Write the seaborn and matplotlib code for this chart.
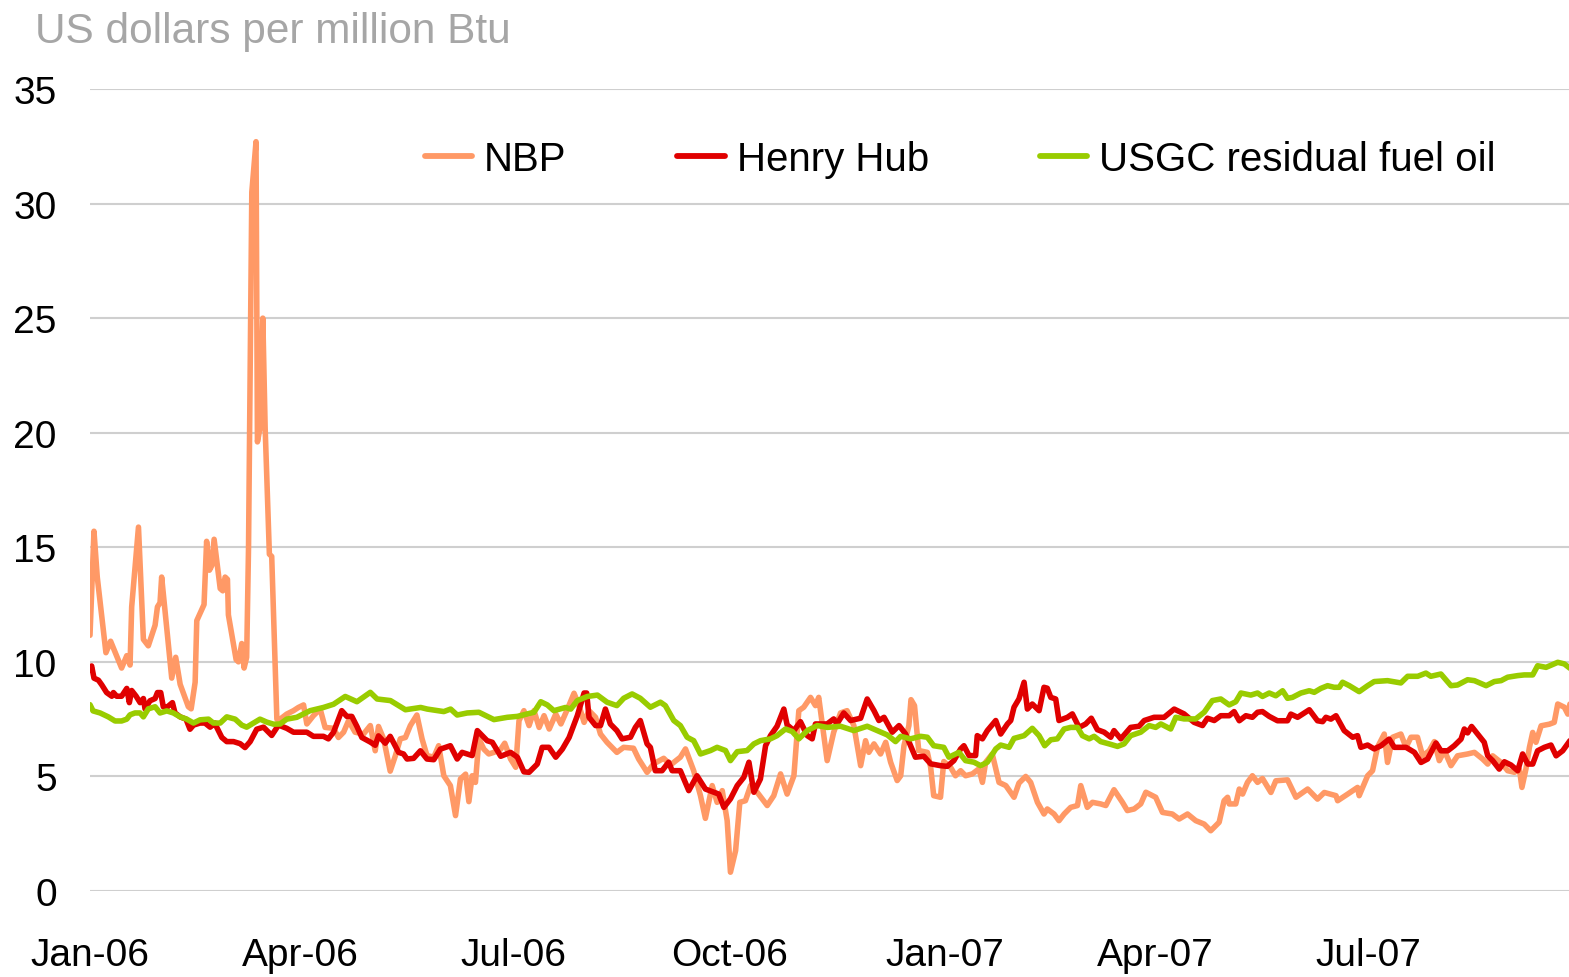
import numpy as np
import pandas as pd
import matplotlib
matplotlib.use("Agg")
import matplotlib.pyplot as plt
import matplotlib.dates as mdates
import seaborn as sns

# ---------------- data (day offsets from 2006-01-01, US$/MMBtu) ----------------
start_date = "2006-01-01"

nbp_day = [0, 1.7, 3.1, 6.8, 8.8, 13.5, 15.7, 17.1, 17.8, 20.7, 22.8, 24.9, 27.8, 28.8, 29.9,
           30.6, 32.8, 34.9, 36.6, 38.5, 42, 43.2, 44.9, 45.6, 48.7, 49.8, 51, 52, 53, 55.6,
           56.7, 57.7, 58.7, 59.1, 62.4, 63.4, 64.8, 65.8, 66.9, 67.7, 69.1, 70.9, 71.5, 72.6, 73.8,
           74.8, 76.6, 77.6, 79.8,
           81.2, 84, 86.9, 89, 91.2, 92.6, 95.4, 98.3, 100.4, 104, 106.1, 108.3, 110.4, 113.2, 116.8,
           119.7, 121.8, 123.2, 125.4, 128.2, 130.4, 132.5, 134.7, 136.8, 139.6, 141.8, 143.9, 146.8,
           148.9, 151.1, 153.9, 156.1, 158.2, 160.4, 161.8, 163.2, 164.6, 166.1, 168.2, 170.3, 172.5,
           175.4, 177.1, 179.6, 181.8, 183.2, 185.3, 187.5, 189.6, 191.8, 193.9, 196.1, 198.9, 201.1,
           203.9, 206.7, 208.8, 211, 213.1, 215.9,
           218, 220.8, 225, 227.9, 232.1, 234.3, 237.9, 240.7, 245, 247.9, 252.1, 254.3, 257.8, 260.7,
           262.8, 265.7, 267.8, 270, 272.1, 273.5, 275.7, 277.5, 279.9, 282.1, 284.9, 289.2, 292,
           294.9, 297.7, 300.6, 302.7, 304.8, 307.7, 309.8, 311.2, 314.8, 317.6, 320.5, 323.3, 326.2,
           329.1, 331.2, 332.6, 334.8, 337.6, 339.8, 341.9, 344.7,
           346.2, 347.6, 349.7, 350.6, 352.1, 353.9, 357.6, 359, 360.3, 363.2, 364.6, 367.5, 369.6,
           371.8, 373.9, 376.8, 379.6, 381.1, 382.5, 385.3, 388.2, 391.1, 394.6, 396.7, 399.6, 401.7,
           404.6, 407.4, 408.8, 411.7, 413.8, 416, 418.8, 421.7, 423.1, 425.9, 428.1, 431.6, 433.8,
           437.3, 440.9, 443, 445.9, 448.7, 450.9, 455.1, 458, 462.2, 465.1, 468.7, 472.2, 475.8,
           478.6, 482.2,
           484.3, 485.8, 486.5, 489.3, 490.8, 492.2, 494.3, 496.4, 498.6, 500.7, 504.3, 506.4, 511.4,
           515, 520, 524.2, 527.1, 532.1, 532.8, 537.1, 541.3, 542, 545.6, 547.7, 549.8, 552.7, 554.1,
           556.3, 559.8, 562, 564.1, 566.9, 569.1, 571.9, 574.1, 576.2, 578.4, 581.2, 584, 588.3,
           591.2, 594.7, 596.9, 599, 602.6, 605.4, 608.3, 610.4, 611.5, 613.2, 614.7, 616.1, 617.5,
           619.7, 623.2, 625.3, 626.8, 629.6, 631.1, 632]
nbp_val = [11.16, 15.7, 13.7, 10.4, 10.9, 9.73, 10.27, 9.86, 12.4, 15.88, 10.98, 10.7, 11.6, 12.4, 12.58,
           13.7, 11.43, 9.29, 10.2, 9.02, 8.04, 7.95, 9.11, 11.8, 12.5, 15.26, 14.0, 14.2, 15.35, 13.2,
           13.1, 13.7, 13.6, 12.05, 10.1, 10.0, 10.8, 9.73, 10.2, 15.0, 30.5, 32.7, 19.6, 20.2, 25.0,
           20.2, 14.7, 14.6, 7.5,
           7.5, 7.72, 7.87, 8.01, 8.12, 7.29, 7.65, 7.94, 7.14, 7.1, 6.7, 6.93, 7.43, 6.93, 6.85,
           7.22, 6.12, 7.18, 6.64, 5.23, 5.9, 6.64, 6.7, 7.22, 7.68, 6.64, 5.91, 5.84,
           6.34, 5.03, 4.6, 3.29, 4.89, 5.1, 3.9, 5.03, 4.74, 6.64, 6.19, 5.98, 6.05,
           6.19, 6.45, 5.76, 5.4, 7.43, 7.87, 7.22, 7.87, 7.14, 7.65, 7.07, 7.72, 7.29,
           7.94, 8.63, 8.1, 7.36, 7.87, 7.58,
           6.85, 6.49, 6.05, 6.27, 6.23, 5.76, 5.18, 5.55, 5.79, 5.5, 5.84, 6.2, 5.25, 4.16,
           3.17, 4.6, 3.87, 4.38, 3.07, 0.82, 1.76, 3.87, 3.94, 4.6, 4.31, 3.73, 4.16,
           5.11, 4.23, 5.03, 7.87, 8.02, 8.45, 8.09, 8.45, 5.69, 6.93, 7.77, 7.87, 7.22,
           5.47, 6.56, 6.05, 6.42, 5.98, 6.49, 5.62, 4.82,
           5.03, 6.34, 7.22, 8.35, 8.09, 6.13, 6.05, 5.4, 4.16, 4.09, 5.65, 5.4, 5.03,
           5.25, 5.03, 5.11, 5.33, 4.74, 5.62, 5.98, 4.74, 4.6, 4.09, 4.71, 5.0, 4.74,
           3.87, 3.36, 3.58, 3.36, 3.07, 3.36, 3.65, 3.73, 4.6, 3.65, 3.87, 3.8, 3.73,
           4.42, 3.87, 3.51, 3.58, 3.8, 4.31, 4.09, 3.43, 3.36, 3.14, 3.36, 3.07, 2.92,
           2.63, 3.0,
           3.94, 4.09, 3.8, 3.8, 4.45, 4.23, 4.74, 5.03, 4.74, 4.91, 4.3, 4.81, 4.85,
           4.09, 4.45, 4.01, 4.3, 4.16, 3.94, 4.23, 4.52, 4.16, 5.03, 5.25, 6.27, 6.85, 5.61,
           6.71, 6.85, 6.27, 6.71, 6.71, 5.9, 6.12, 6.52, 5.69, 6.12, 5.47, 5.9, 5.98,
           6.05, 5.76, 5.54, 5.9, 5.61, 5.25, 5.18, 5.32, 4.52, 5.32, 6.27, 6.92, 6.49,
           7.21, 7.28, 7.36, 8.16, 8.02, 7.72, 8.16]

hh_day = [0, 0.7, 1.7, 3.6, 5, 7.1, 9.3, 10, 11.4, 13.5, 15.7, 16.8, 17.8, 19.7, 21.4,
          22.8, 23.5, 25.6, 27.8, 28.8, 30.2, 31.3, 33.1, 35.2, 36.3, 38.5, 41, 42.7, 44.2, 47,
          49.1, 51.3, 53.4, 54.1, 56.3, 58.4, 61.3, 64.1, 66.2, 68.4, 71.2, 74.1, 77.6, 80.5,
          84, 86.9, 92.6, 95.4, 99.7, 101.8, 104, 107.5, 109.7, 111.8, 114, 116.1, 119.7, 121.8,
          123.2, 126.1, 128.2, 131.8, 133.9, 135.4, 138.2, 141.1, 143.9, 146.8, 149.6, 153.9, 156.8,
          158.9, 163.2, 165.4, 169.6, 171.8, 175.4, 179.6, 182.5, 185.3, 187.5, 191, 193.1, 196,
          198.9, 201.7, 204.6, 208.1, 211, 212.1, 213.1, 215.9,
          218, 220.1, 222.2, 225, 227.2, 230.8, 232.9, 235, 237.9, 239.3, 241.4, 244.3, 247.1, 248.6,
          252.1, 255.7, 259.2, 262.8, 266.4, 268.5, 270.7, 273.5, 276.4, 279.2, 281.4, 283.5, 286.3,
          288.5, 290.6, 293.4, 296.3, 297.7, 300.6, 303.4, 306.3, 308.4, 309.8, 314.8, 317.6, 319,
          321.9, 324.8, 329.1, 331.9, 334.8, 336.9, 339.1, 342.6, 345.5,
          348.3, 350.4, 352.5, 356.1, 359, 363.2, 366.1, 368.9, 371.8, 373.2, 375.4, 378.2, 378.9,
          381.1, 383.2, 386.8, 388.9, 391.8, 393.2, 394.6, 396.7, 398.9, 400.3, 402.4, 405.3, 407.4,
          408.8, 410.3, 412.4, 413.8, 417.4, 419.5, 422.4, 425.2, 427.6, 430.2, 433.1, 435.9, 437.3,
          440.2, 444.4, 448, 450.2, 454.4, 458.7, 463, 467.2, 471.5, 475.1, 477.2, 480.1,
          482.9, 486.5, 488.6, 490.8, 493.6, 496.4, 498.6, 500.7, 503.6, 507.1, 511.4, 512.8, 515.7,
          520.7, 524.2, 526.4, 527.8, 529.9, 532.1, 535.6, 539.2, 541.3, 542.7, 545.6, 548.4, 551.3,
          554.8, 557, 562, 565.6, 568.4, 571.2, 574.8, 576.9, 579.8, 582.6, 585.5, 586.9, 588.3,
          590, 592.6, 595.4, 596.9, 599, 601.8, 604, 606.8, 609.7, 611.8, 614, 616.1, 618.2,
          621.1, 623.9, 626.1, 628.9, 632]
hh_val = [9.65, 9.82, 9.29, 9.2, 9.0, 8.66, 8.5, 8.66, 8.5, 8.5, 8.84, 8.22, 8.75, 8.5, 8.22,
          8.4, 7.95, 8.3, 8.4, 8.66, 8.66, 8.04, 8.04, 8.22, 7.77, 7.6, 7.5, 7.06, 7.24, 7.33,
          7.33, 7.15, 7.33, 7.15, 6.7, 6.52, 6.52, 6.43, 6.26, 6.52, 7.06, 7.15, 6.79, 7.24,
          7.1, 6.93, 6.93, 6.75, 6.75, 6.64, 6.93, 7.87, 7.62, 7.62, 7.18, 6.7, 6.5, 6.36,
          6.77, 6.45, 6.75, 6.05, 5.98, 5.76, 5.79, 6.12, 5.76, 5.73, 6.19, 6.34, 5.76,
          6.05, 5.91, 7.0, 6.56, 6.49, 5.88, 6.05, 5.84, 5.2, 5.18, 5.54, 6.27, 6.27,
          5.84, 6.19, 6.7, 7.65, 8.64, 8.64, 7.58, 7.22,
          7.22, 7.94, 7.29, 7.0, 6.64, 6.71, 7.14, 7.44, 6.42, 6.27, 5.25, 5.25, 5.62, 5.25,
          5.25, 4.38, 5.03, 4.45, 4.31, 4.23, 3.65, 4.02, 4.6, 4.96, 5.62, 4.31, 4.89,
          6.34, 6.78, 7.19, 7.94, 7.25, 7.0, 7.39, 6.78, 6.64, 7.29, 7.29, 7.51, 7.29,
          7.77, 7.44, 7.54, 8.38, 7.87, 7.44, 7.58, 6.93, 7.22,
          6.85, 6.34, 5.84, 5.88, 5.55, 5.47, 5.44, 5.69, 6.2, 6.34, 5.91, 5.91, 6.78,
          6.64, 7.0, 7.44, 6.85, 7.29, 7.44, 8.02, 8.38, 9.11, 7.94, 8.16, 7.87, 8.89,
          8.85, 8.45, 8.38, 7.44, 7.58, 7.73, 7.14, 7.29, 7.54, 7.04, 6.93, 6.71, 7.0,
          6.64, 7.14, 7.19, 7.44, 7.58, 7.58, 7.94, 7.73, 7.36, 7.22, 7.54, 7.44,
          7.65, 7.65, 7.83, 7.43, 7.65, 7.58, 7.8, 7.83, 7.62, 7.43, 7.43, 7.72, 7.58,
          7.91, 7.43, 7.39, 7.58, 7.5, 7.65, 7.0, 6.71, 6.78, 6.27, 6.37, 6.2, 6.34,
          6.63, 6.27, 6.27, 6.05, 5.61, 5.76, 6.46, 6.12, 6.12, 6.34, 6.63, 7.07, 6.9,
          7.18, 6.85, 6.49, 5.9, 5.69, 5.32, 5.64, 5.5, 5.25, 5.98, 5.54, 5.54, 6.12,
          6.27, 6.37, 5.9, 6.12, 6.56]

fo_day = [0, 1.3, 4.3, 7.8, 10.7, 13.5, 15.7, 17.1, 19.2, 21.4, 22.8, 24.9, 27.8, 29.9, 32.8,
          35.6, 38.5, 41.3, 44.2, 47, 50.6, 52.7, 55.6, 58.4, 62, 64.8, 66.9, 69.8, 72.6, 75.5, 78.4,
          81.2, 84, 88.3, 94, 99.7, 104, 109, 114, 119.7, 122.6, 128.3, 134.7, 141.2, 144, 151.1,
          154, 156.8, 161.1, 166.1, 172.5, 178.2, 182.5, 189.6, 192.5, 195.3, 198.1, 203.1, 205.3,
          208.1, 212.4, 216.7,
          220.8, 225, 227.9, 231.5, 235, 239.3, 243.6, 245.7, 249.3, 252.1, 255, 257.8, 260.7, 265,
          267.8, 271.4, 273.5, 276.4, 280.6, 283.5, 286.3, 290.6, 293.4, 297, 299.9, 302.7, 306.3,
          310.6, 314.8, 320.5, 326.2, 331.9, 336.2, 340.5, 344,
          346.2, 350.4, 354.7, 357.6, 360.3, 364.6, 366.8, 371.1, 373.9, 377.5, 380.3, 383.2, 386.8,
          388.9, 392.5, 394.6, 398.9, 402.4, 405.3, 407.7, 410.3, 413.1, 416, 418.8, 421.7, 423.8,
          426.7, 428.8, 431.6, 435.2, 438.8, 441.6, 444.4, 448.7, 452.3, 455.1, 457.3, 461.5, 463.7,
          467.2, 472.2, 475.8, 479.3,
          482.9, 486.5, 489.3, 491.5, 495.7, 498.6, 500.7, 503.6, 506.4, 509.3, 511.4, 513.5, 517.1,
          520.7, 522.8, 525.6, 528.5, 531.3, 533.5, 534.9, 537.8, 542, 545.6, 548.4, 554.1, 559.8,
          562.7, 567, 570.5, 572.6, 576.9, 581.2, 584, 588.3, 591.2, 596.2, 599.7, 602.6, 605.4,
          609.7, 612.5, 616.1, 618.2, 621.8, 626.8, 629.6, 632]
fo_val = [8.13, 7.86, 7.77, 7.6, 7.42, 7.42, 7.5, 7.69, 7.77, 7.77, 7.6, 7.95, 8.04, 7.77, 7.86,
          7.77, 7.6, 7.5, 7.33, 7.47, 7.5, 7.33, 7.33, 7.6, 7.5, 7.24, 7.15, 7.33, 7.5, 7.37, 7.28,
          7.29, 7.5, 7.58, 7.87, 8.01, 8.15, 8.49, 8.26, 8.67, 8.38, 8.31, 7.91, 8.01, 7.94, 7.83,
          7.94, 7.68, 7.77, 7.8, 7.48, 7.58, 7.62, 7.8, 8.26, 8.12, 7.87, 8.01, 7.94,
          8.31, 8.49, 8.55,
          8.24, 8.09, 8.41, 8.6, 8.41, 8.02, 8.24, 8.09, 7.44, 7.22, 6.71, 6.56, 5.98, 6.13,
          6.27, 6.13, 5.69, 6.08, 6.13, 6.42, 6.56, 6.64, 6.78, 7.07, 6.96, 6.64, 7.0,
          7.22, 7.14, 7.19, 7.0, 7.19, 7.0, 6.81, 6.52,
          6.75, 6.64, 6.75, 6.71, 6.34, 6.27, 5.84, 6.05, 5.69, 5.62, 5.47, 5.62, 6.2,
          6.37, 6.27, 6.66, 6.78, 7.1, 6.78, 6.34, 6.6, 6.64, 7.07, 7.14, 7.14, 6.78,
          6.64, 6.75, 6.52, 6.42, 6.31, 6.42, 6.78, 6.93, 7.22, 7.14, 7.29, 7.07, 7.58,
          7.51, 7.51, 7.8, 8.31,
          8.38, 8.12, 8.26, 8.64, 8.55, 8.64, 8.49, 8.64, 8.52, 8.74, 8.41, 8.45, 8.64,
          8.74, 8.67, 8.84, 8.96, 8.89, 8.89, 9.11, 8.96, 8.7, 8.96, 9.14, 9.18, 9.08,
          9.37, 9.37, 9.51, 9.37, 9.47, 8.96, 8.99, 9.22, 9.18, 8.96, 9.14, 9.18, 9.33,
          9.4, 9.43, 9.43, 9.83, 9.76, 9.98, 9.91, 9.72]

series_names = ["NBP", "Henry Hub", "USGC residual fuel oil"]
series_colors = ["#FF9966", "#E00000", "#99CC00"]
y_ticks = [0, 5, 10, 15, 20, 25, 30, 35]
y_title = "US dollars per million Btu"

# ---------------- figure ----------------
sns.set_theme(style="white")
plt.rcParams["font.family"] = ["Liberation Sans", "DejaVu Sans"]

W, H = 1569, 978
fig = plt.figure(figsize=(W / 100, H / 100), dpi=100)
ax = fig.add_axes([90 / W, (H - 892) / H, (W - 90) / W, (892 - 90) / H])

base = pd.Timestamp(start_date)
def to_dates(days):
    return base + pd.to_timedelta(np.asarray(days, dtype=float), unit="D")

for days, vals, name, col in zip([nbp_day, hh_day, fo_day], [nbp_val, hh_val, fo_val],
                                 series_names, series_colors):
    df = pd.DataFrame({"date": to_dates(days), "value": vals})
    sns.lineplot(data=df, x="date", y="value", ax=ax, color=col, linewidth=4.0,
                 label=name, estimator=None, sort=False,
                 solid_capstyle="round", solid_joinstyle="round")

ax.set_xlim(base, base + pd.Timedelta(days=631.6))
ax.set_ylim(0, 35)
ax.set_yticks(y_ticks)
ax.xaxis.set_major_locator(mdates.MonthLocator(bymonth=[1, 4, 7, 10]))
ax.xaxis.set_major_formatter(mdates.DateFormatter("%b-%y"))
ax.set_xlabel("")
ax.set_ylabel("")

ax.grid(axis="y", color="#CFCFCF", linewidth=1.5)
ax.grid(axis="x", visible=False)
ax.set_axisbelow(True)
for s in ax.spines.values():
    s.set_visible(False)
ax.tick_params(axis="both", length=0, labelsize=28, colors="black")
ax.tick_params(axis="x", pad=33)
ax.tick_params(axis="y", pad=24)

leg = ax.legend(loc="center left", bbox_to_anchor=(425 / W, (H - 160) / H),
                bbox_transform=fig.transFigure, ncol=3, frameon=False,
                fontsize=29, handlelength=1.17, handletextpad=0.3,
                columnspacing=2.75, borderpad=0, borderaxespad=0)
for t in leg.get_texts():
    t.set_color("black")
for line in leg.get_lines():
    line.set_linewidth(4.2)
    line.set_solid_capstyle("round")

fig.text(35 / W, 1 - 43 / H, y_title, fontsize=30.5, color="#A6A6A6",
         ha="left", va="baseline")

fig.savefig("out.png", dpi=100)
